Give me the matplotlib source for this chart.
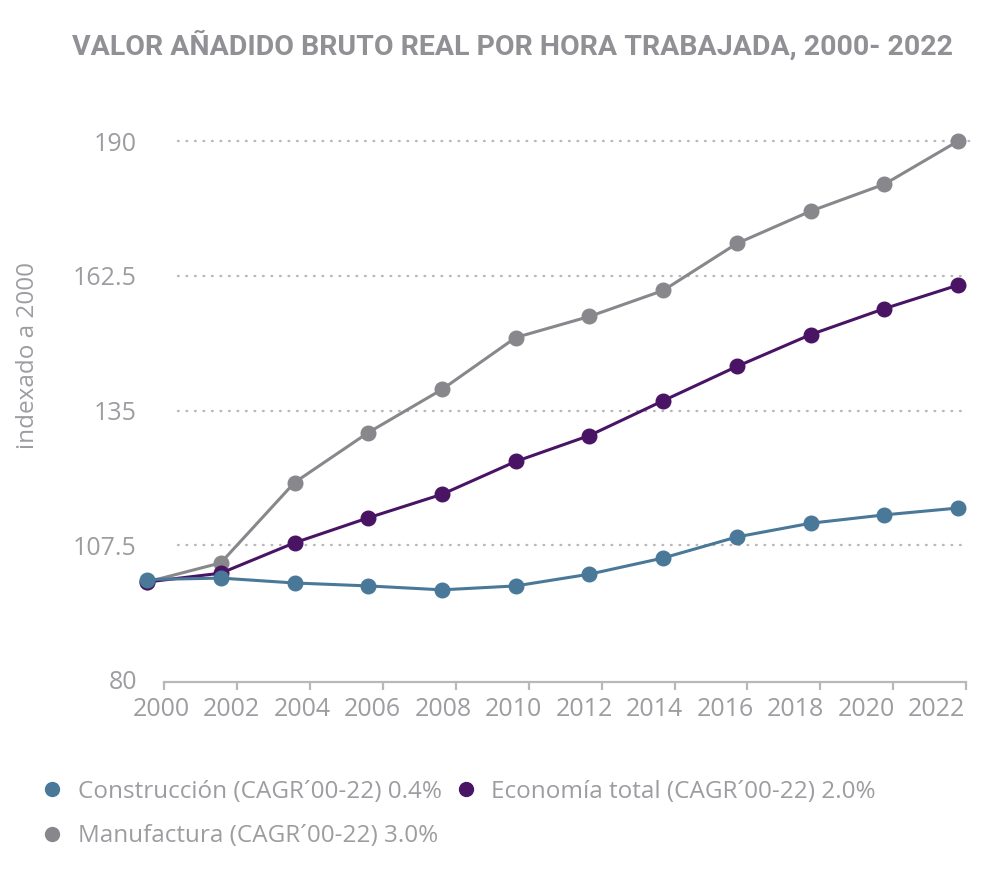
import matplotlib
matplotlib.use('Agg')
import matplotlib.pyplot as plt
import numpy as np
from matplotlib.lines import Line2D

# datos (indexado a 2000)
years = [2000, 2002, 2004, 2006, 2008, 2010, 2012, 2014, 2016, 2018, 2020, 2022]
construccion = [100.5, 100.8, 99.8, 99.2, 98.4, 99.2, 101.6, 104.9, 109.2, 112.0, 113.7, 115.1]
economia = [100.0, 101.8, 108.0, 113.1, 117.9, 124.6, 129.9, 137.0, 144.0, 150.5, 155.8, 160.6]
manufactura = [100.0, 103.9, 120.3, 130.5, 139.3, 149.9, 154.2, 159.5, 169.1, 175.7, 181.2, 190.0]
yticks = [80, 107.5, 135, 162.5, 190]
ylabels = ['80', '107.5', '135', '162.5', '190']
labels = ['Construcción (CAGR´00-22) 0.4%',
          'Economía total (CAGR´00-22) 2.0%',
          'Manufactura (CAGR´00-22) 3.0%']

c_con = '#4a7898'
c_eco = '#4a1464'
c_man = '#88888c'
c_txt = '#9d9da1'
c_grid = '#b8b8bc'

plt.rcParams['font.family'] = ['Open Sans', 'DejaVu Sans']

fig = plt.figure(figsize=(10, 8.71), dpi=100)
ax = fig.add_axes([0.1286, 0.2193, 0.848, 0.630])

# ejes primero (set_position reinicia los ticks)
for s in ['top', 'right', 'left']:
    ax.spines[s].set_visible(False)
ax.spines['bottom'].set_position(('data', 79.6))
ax.spines['bottom'].set_color(c_grid)
ax.spines['bottom'].set_linewidth(1.6)

# en el original las marcas y etiquetas del eje x no caen justo sobre los puntos
tick_pos = np.linspace(2000.46, 2022.22, len(years))
lab_pos = np.linspace(2000.38, 2021.41, len(years))
ax.spines['bottom'].set_bounds(tick_pos[0], tick_pos[-1])

# grid punteada
for v in yticks[1:]:
    ax.plot([2000.85, 2022.4 if v == 190 else 2022.1], [v, v], color=c_grid,
            lw=1.7, ls=(0, (0.3, 3.3)), dash_capstyle='round', zorder=1)

ax.plot(years, manufactura, color=c_man, lw=2.2, marker='o', ms=10.5, zorder=3)
ax.plot(years, economia, color=c_eco, lw=2.2, marker='o', ms=10.5, zorder=4)
ax.plot(years, construccion, color=c_con, lw=2.2, marker='o', ms=10.5, zorder=5)

ax.set_xlim(1999.5, 2022.5)
ax.set_ylim(80, 192)
ax.set_xticks(lab_pos)
ax.set_xticklabels([str(y) for y in years])
ax.set_xticks(tick_pos, minor=True)
ax.tick_params(axis='x', which='major', length=0, pad=11, labelsize=18, labelcolor=c_txt)
ax.tick_params(axis='x', which='minor', direction='out', length=6, width=1.6, color=c_grid)
ax.set_yticks(yticks)
ax.set_yticklabels(ylabels)
ax.tick_params(axis='y', length=0, pad=-6, labelsize=18, labelcolor=c_txt)
ax.set_ylabel('indexado a 2000', fontsize=17.5, color=c_txt)
ax.yaxis.set_label_coords(-0.105, 0.592)

fig.text(0.512, 0.948, 'VALOR AÑADIDO BRUTO REAL POR HORA TRABAJADA, 2000- 2022',
         ha='center', va='center', fontsize=20.5, color='#919195',
         family=['Roboto', 'DejaVu Sans'], fontweight='bold')

handles = [Line2D([], [], ls='none', marker='o', ms=10, color=c_con),
           Line2D([], [], ls='none', marker='o', ms=10, color=c_man),
           Line2D([], [], ls='none', marker='o', ms=10, color=c_eco)]
leg = fig.legend(handles, [labels[0], labels[2], labels[1]], ncol=2,
                 loc='upper left', bbox_to_anchor=(0.018, 0.13),
                 frameon=False, fontsize=17.5, handletextpad=0.55,
                 columnspacing=0.5, labelspacing=0.85, handlelength=1.0)
for t in leg.get_texts():
    t.set_color(c_txt)

fig.savefig('out.png', dpi=100)
